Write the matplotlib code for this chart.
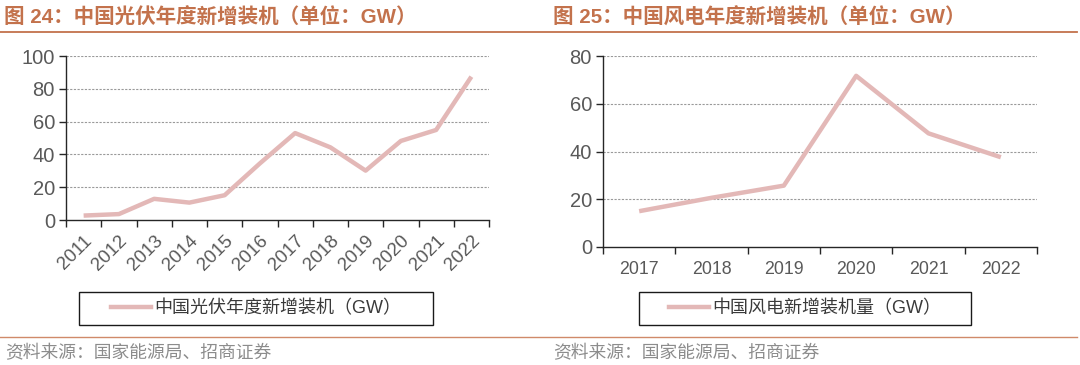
import matplotlib
matplotlib.use("Agg")
import matplotlib.pyplot as plt
from matplotlib.patches import Rectangle
from matplotlib.lines import Line2D

plt.rcParams['font.family'] = ['Liberation Sans', 'Noto Sans CJK SC', 'DejaVu Sans']

# ---- data ----
pv_years = ['2011', '2012', '2013', '2014', '2015', '2016', '2017', '2018', '2019', '2020', '2021', '2022']
pv_values = [2.7, 3.6, 12.9, 10.6, 15.1, 34.5, 53.0, 44.3, 30.1, 48.2, 54.9, 87.4]
wind_years = ['2017', '2018', '2019', '2020', '2021', '2022']
wind_values = [15.0, 20.6, 25.7, 71.7, 47.6, 37.6]

title_left = '图 24：中国光伏年度新增装机（单位：GW）'
title_right = '图 25：中国风电年度新增装机（单位：GW）'
legend_left = '中国光伏年度新增装机（GW）'
legend_right = '中国风电新增装机量（GW）'
source_text = '资料来源：国家能源局、招商证券'

LINE_C = '#e3b8b7'
TITLE_C = '#c3724c'
TICK_C = '#595959'
W, H = 1080, 365

fig = plt.figure(figsize=(W / 100, H / 100), dpi=100)


def fx(px):
    return px / W


def fy(py):
    return 1 - py / H


def style_axes(ax, ymax, ystep, ncat):
    ax.set_xlim(-0.5, ncat - 0.5)
    ax.set_ylim(0, ymax)
    ax.set_yticks(range(0, ymax + 1, ystep))
    for s in ['top', 'right']:
        ax.spines[s].set_visible(False)
    for s in ['left', 'bottom']:
        ax.spines[s].set_color('#262626')
        ax.spines[s].set_linewidth(1.0)
    ax.set_xticks([i - 0.5 for i in range(ncat + 1)])
    ax.set_xticklabels([])
    ax.tick_params(axis='x', which='major', direction='out', length=5, width=1, color='#262626')
    ax.tick_params(axis='y', direction='out', length=5, width=1, color='#262626',
                   labelsize=14.5, labelcolor=TICK_C, pad=3)
    for yv in range(ystep, ymax + 1, ystep):
        ax.axhline(yv, color='#9a9a9a', lw=0.8, ls=(0, (2, 1.3)), zorder=0)


# ---- left chart ----
axL = fig.add_axes([fx(66), fy(220), fx(489) - fx(66), fy(56) - fy(220)])
style_axes(axL, 100, 20, len(pv_years))
axL.plot(range(len(pv_years)), pv_values, color=LINE_C, lw=3.2, solid_capstyle='butt')
axL.set_xticks(range(len(pv_years)), minor=True)
axL.set_xticklabels(pv_years, minor=True, rotation=45, ha='right', va='top', rotation_mode='anchor')
axL.tick_params(axis='x', which='minor', length=0, labelsize=13.5, labelcolor=TICK_C, pad=9)

# ---- right chart ----
axR = fig.add_axes([fx(603), fy(247), fx(1037) - fx(603), fy(56) - fy(247)])
style_axes(axR, 80, 20, len(wind_years))
axR.plot(range(len(wind_years)), wind_values, color=LINE_C, lw=3.2, solid_capstyle='butt')
axR.set_xticks(range(len(wind_years)), minor=True)
axR.set_xticklabels(wind_years, minor=True)
axR.tick_params(axis='x', which='minor', length=0, labelsize=12.8, labelcolor=TICK_C, pad=10)

# ---- titles ----
fig.text(fx(4), fy(18), title_left, color=TITLE_C, fontsize=14.8, fontweight='bold',
         va='center', ha='left', family=['Liberation Sans', 'Noto Sans CJK SC'])
fig.text(fx(553), fy(18), title_right, color=TITLE_C, fontsize=14.8, fontweight='bold',
         va='center', ha='left', family=['Liberation Sans', 'Noto Sans CJK SC'])
fig.add_artist(Line2D([0, fx(1077)], [fy(32), fy(32)], color=TITLE_C, lw=1.3))

# ---- legends ----
for x0, x1, label in [(79, 433, legend_left), (639, 971, legend_right)]:
    fig.add_artist(Rectangle((fx(x0), fy(325)), fx(x1) - fx(x0), fy(292) - fy(325),
                             transform=fig.transFigure, fill=False, edgecolor='#1a1a1a', lw=1.0))
    handle = Line2D([], [], color=LINE_C, lw=3.2)
    fig.legend([handle], [label], loc='center', bbox_to_anchor=(fx((x0 + x1) / 2), fy(308.5)),
               frameon=False, handlelength=2.2, handletextpad=0.2,
               labelcolor='#3a3a3a', borderpad=0,
               prop={'family': ['Liberation Sans', 'Noto Sans CJK SC'], 'size': 13})

# ---- source ----
fig.add_artist(Line2D([0, fx(1077)], [fy(337), fy(337)], color='#d08a6a', lw=1.0))
fig.text(fx(5), fy(353), source_text, color='#8c8c8c', fontsize=12.8, va='center', ha='left',
         family=['Noto Sans CJK SC'])
fig.text(fx(553), fy(353), source_text, color='#8c8c8c', fontsize=12.8, va='center', ha='left',
         family=['Noto Sans CJK SC'])

fig.savefig('out.png', dpi=100)
